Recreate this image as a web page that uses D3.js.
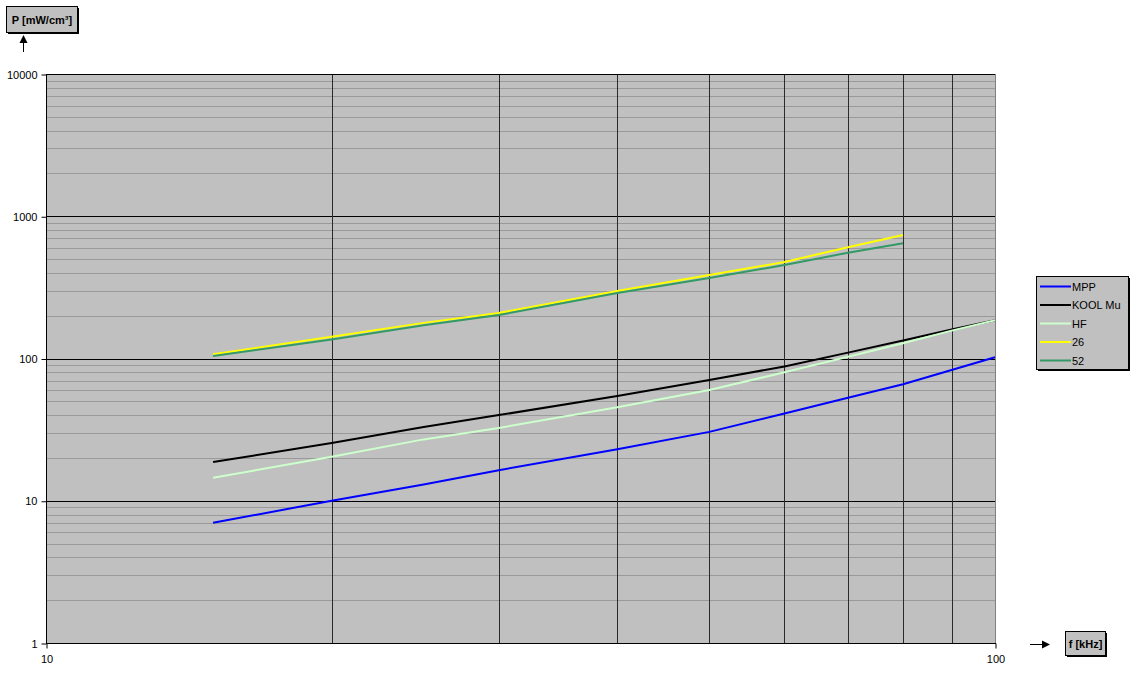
<!DOCTYPE html>
<html>
<head>
<meta charset="utf-8">
<script src="https://cdn.jsdelivr.net/npm/d3@7/dist/d3.min.js"></script>
<style>
  html, body { margin: 0; padding: 0; background: #fff; }
  svg { display: block; font-family: "Liberation Sans", Arial, sans-serif; }
</style>
</head>
<body>
<svg id="chart" width="1136" height="675"></svg>
<script>
// Core loss density vs. frequency for several powder core materials
const freqs = [15, 20, 25, 30, 40, 50, 60, 70, 80, 90, 100];
const seriesNames = ["MPP", "KOOL Mu", "HF", "26", "52"];
const seriesColors = ["#0000ff", "#000000", "#ccffcc", "#ffff00", "#339966"];
const mppValues   = [7.0, 10.0, 13.0, 16.4, 23.0, 30.5, 41, 53, 66, 83, 102];
const koolValues  = [18.7, 25.5, 33.0, 40, 54.5, 70.5, 88, 110, 134, 160, 186];
const hfValues    = [14.5, 20.4, 27.0, 32.5, 45.5, 60, 80, 103, 128, 157, 186];
const s26Values   = [107, 142, 178, 209, 298, 386, 477, 605, 738];
const s52Values   = [104, 136, 171, 202, 289, 368, 454, 554, 645];
const xTickLabels = ["10", "100"];
const yTickLabels = ["1", "10", "100", "1000", "10000"];
const yTitle = "P [mW/cm³]";
const xTitle = "f [kHz]";

const seriesValues = [mppValues, koolValues, hfValues, s26Values, s52Values];

const svg = d3.select("#chart");
const plotLeft = 46, plotRight = 995, plotTop = 74, plotBottom = 643;

const x = d3.scaleLog().domain([10, 100]).range([plotLeft, plotRight]);
const y = d3.scaleLog().domain([1, 10000]).range([plotBottom, plotTop]);

// plot background
svg.append("rect")
  .attr("x", plotLeft).attr("y", plotTop)
  .attr("width", plotRight - plotLeft).attr("height", plotBottom - plotTop)
  .attr("fill", "#c0c0c0");

// horizontal minor grid lines (2..9 in each decade)
const yMinor = [];
for (let d = 1; d < 10000; d *= 10) for (let m = 2; m <= 9; m++) yMinor.push(d * m);
svg.append("g").selectAll("line").data(yMinor).join("line")
  .attr("x1", plotLeft).attr("x2", plotRight)
  .attr("y1", v => Math.round(y(v)) + 0.5).attr("y2", v => Math.round(y(v)) + 0.5)
  .attr("stroke", "#9a9a9a").attr("stroke-width", 1);

// horizontal major grid lines
const yMajor = [10, 100, 1000];
svg.append("g").selectAll("line").data(yMajor).join("line")
  .attr("x1", plotLeft).attr("x2", plotRight)
  .attr("y1", v => Math.round(y(v)) + 0.5).attr("y2", v => Math.round(y(v)) + 0.5)
  .attr("stroke", "#000").attr("stroke-width", 1);

// vertical grid lines
const xGrid = [20, 30, 40, 50, 60, 70, 80, 90];
svg.append("g").selectAll("line").data(xGrid).join("line")
  .attr("x1", v => Math.round(x(v)) + 0.5).attr("x2", v => Math.round(x(v)) + 0.5)
  .attr("y1", plotTop).attr("y2", plotBottom)
  .attr("stroke", "#2a2a2a").attr("stroke-width", 1);

// series lines
const line = d3.line().x(d => x(d[0])).y(d => y(d[1]));
seriesValues.forEach((vals, i) => {
  const pts = vals.map((v, j) => [freqs[j], v]);
  svg.append("path")
    .attr("d", line(pts))
    .attr("fill", "none")
    .attr("stroke", seriesColors[i])
    .attr("stroke-width", 2);
});

// plot frame
svg.append("line").attr("x1", plotLeft).attr("x2", plotRight).attr("y1", plotTop + 0.5).attr("y2", plotTop + 0.5).attr("stroke", "#000");
svg.append("line").attr("x1", plotLeft).attr("x2", plotRight + 1).attr("y1", plotBottom + 0.5).attr("y2", plotBottom + 0.5).attr("stroke", "#000");
svg.append("line").attr("x1", plotLeft + 0.5).attr("x2", plotLeft + 0.5).attr("y1", plotTop).attr("y2", plotBottom + 1).attr("stroke", "#000");
svg.append("line").attr("x1", plotRight + 0.5).attr("x2", plotRight + 0.5).attr("y1", plotTop).attr("y2", plotBottom).attr("stroke", "#808080");

// y axis ticks and labels
const yTicks = yTickLabels.map(Number);
const yAxis = d3.axisLeft(y).tickValues(yTicks).tickFormat((d, i) => yTickLabels[i]).tickSize(5).tickPadding(4);
const gy = svg.append("g").attr("transform", `translate(${plotLeft + 0.5},0.5)`).call(yAxis);
gy.select(".domain").remove();
gy.selectAll("text").attr("font-size", 11).attr("fill", "#000").attr("font-family", "Liberation Sans, Arial, sans-serif");

// x axis ticks and labels
const xTicks = xTickLabels.map(Number);
const xAxis = d3.axisBottom(x).tickValues(xTicks).tickFormat((d, i) => xTickLabels[i]).tickSize(5).tickPadding(7);
const gx = svg.append("g").attr("transform", `translate(0.5,${plotBottom + 0.5})`).call(xAxis);
gx.select(".domain").remove();
gx.selectAll("text").attr("font-size", 11).attr("fill", "#000").attr("font-family", "Liberation Sans, Arial, sans-serif");

// axis title boxes with drop shadow
function titleBox(bx, by, w, h, text) {
  const g = svg.append("g");
  g.append("rect").attr("x", bx + 2).attr("y", by + 2).attr("width", w).attr("height", h).attr("fill", "#000");
  g.append("rect").attr("x", bx + 0.5).attr("y", by + 0.5).attr("width", w).attr("height", h)
    .attr("fill", "#c0c0c0").attr("stroke", "#000").attr("stroke-width", 1);
  g.append("text").attr("x", bx + w / 2 + 0.5).attr("y", by + h / 2 + 4.5)
    .attr("text-anchor", "middle").attr("font-size", 11).attr("font-weight", "bold")
    .text(text);
  return g;
}
titleBox(6, 6, 71, 26, yTitle);
titleBox(1065, 631, 40, 24, xTitle);

// arrows next to the axis titles
const arrows = svg.append("g").attr("stroke", "#000").attr("fill", "#000");
arrows.append("line").attr("x1", 23.5).attr("x2", 23.5).attr("y1", 52).attr("y2", 41).attr("stroke-width", 1);
arrows.append("path").attr("d", "M19.5,43 L23.5,35 L27.5,43 Z").attr("stroke", "none");
arrows.append("line").attr("x1", 1030).attr("x2", 1043).attr("y1", 644.5).attr("y2", 644.5).attr("stroke-width", 1);
arrows.append("path").attr("d", "M1042,640.5 L1050,644.5 L1042,648.5 Z").attr("stroke", "none");

// legend
const lg = svg.append("g");
lg.append("rect").attr("x", 1038).attr("y", 278).attr("width", 92).attr("height", 93).attr("fill", "#000");
lg.append("rect").attr("x", 1036.5).attr("y", 276.5).attr("width", 92).attr("height", 93)
  .attr("fill", "#c0c0c0").attr("stroke", "#000").attr("stroke-width", 1);
const rowY = d3.scalePoint().domain(seriesNames).range([286, 360]);
const items = lg.selectAll("g.item").data(seriesNames).join("g").attr("class", "item")
  .attr("transform", d => `translate(0,${rowY(d)})`);
items.append("line").attr("x1", 1040).attr("x2", 1071).attr("y1", 0.5).attr("y2", 0.5)
  .attr("stroke", (d, i) => seriesColors[i]).attr("stroke-width", 2);
items.append("text").attr("x", 1072).attr("y", 4.5).attr("font-size", 11).text(d => d);
</script>
</body>
</html>
